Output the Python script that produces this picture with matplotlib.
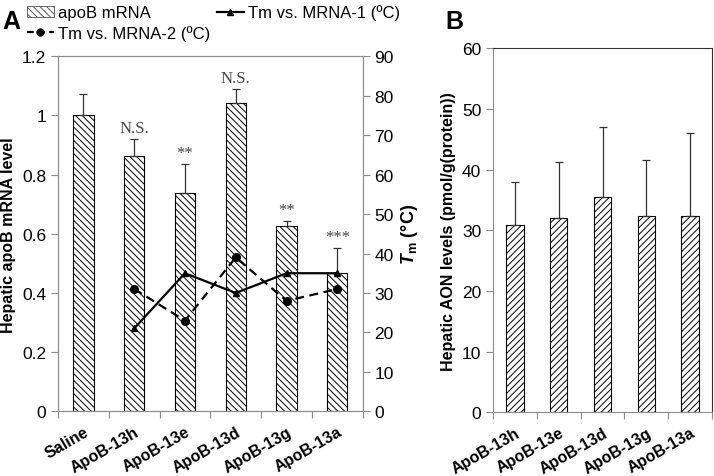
import matplotlib
matplotlib.use("Agg")
import matplotlib.pyplot as plt
from matplotlib.lines import Line2D
from matplotlib.patches import Patch
import numpy as np

plt.rcParams['font.family'] = ['Liberation Sans', 'DejaVu Sans']
plt.rcParams['hatch.linewidth'] = 0.7
plt.rcParams['mathtext.fontset'] = 'custom'
plt.rcParams['mathtext.bf'] = 'Liberation Sans:bold'
plt.rcParams['mathtext.bfit'] = 'Liberation Sans:italic:bold'

# panel A data
groups_a = ["Saline", "ApoB-13h", "ApoB-13e", "ApoB-13d", "ApoB-13g", "ApoB-13a"]
mrna = [1.0, 0.863, 0.737, 1.041, 0.625, 0.468]
mrna_err = [0.073, 0.057, 0.099, 0.049, 0.019, 0.084]
signif = ["", "N.S.", "**", "N.S.", "**", "***"]
tm_groups = groups_a[1:]
tm1 = [21, 35, 30, 35, 35]
tm2 = [31, 23, 39, 28, 31]

# panel B data
groups_b = ["ApoB-13h", "ApoB-13e", "ApoB-13d", "ApoB-13g", "ApoB-13a"]
aon = [30.8, 32.1, 35.5, 32.3, 32.3]
aon_err = [7.2, 9.2, 11.5, 9.3, 13.7]

gray = "#8c8c8c"

fig = plt.figure(figsize=(7.14, 4.77), dpi=100)

# ---- A ----
ax = fig.add_axes([0.0812, 0.1356, 0.4268, 0.7444])
xa = np.arange(len(groups_a))
ax.bar(xa, mrna, width=0.4, color="white", edgecolor="black", linewidth=0.8,
       hatch="\\\\\\\\\\", zorder=2)
ax.errorbar(xa, mrna, yerr=[np.zeros(len(mrna)), mrna_err], fmt="none",
            ecolor="#333333", elinewidth=0.9, capsize=3, capthick=0.9, zorder=3)
for x, v, e, s in zip(xa, mrna, mrna_err, signif):
    if s:
        ax.annotate(s, (x, v + e), xytext=(0, 2), textcoords="offset points",
                    ha="center", va="bottom", fontsize=12, color="#444444",
                    family="Liberation Serif")
ax.set_xlim(-0.5, len(groups_a) - 0.5)
ax.set_ylim(0, 1.2)
ax.set_yticks(np.arange(0, 1.21, 0.2))
ax.set_yticklabels(["0", "0.2", "0.4", "0.6", "0.8", "1", "1.2"])
ax.set_xticks(np.arange(-0.5, len(groups_a), 1.0))
ax.set_xticklabels([])
ax.set_xticks(xa, minor=True)
ax.set_xticklabels(groups_a, minor=True, rotation=30, ha="right",
                   rotation_mode="anchor", fontweight="bold", fontsize=11.5)
ax.tick_params(axis="x", which="minor", length=0, pad=9)
ax.tick_params(axis="x", which="major", length=5, color=gray)
ax.tick_params(axis="y", length=5, color=gray, labelsize=12.5)
for sp in ax.spines.values():
    sp.set_color(gray)
ax.set_ylabel("Hepatic apoB mRNA level", fontweight="bold", fontsize=11.5)

ax2 = ax.twinx()
xt = np.arange(1, len(groups_a))
ax2.plot(xt, tm1, color="black", linewidth=1.6, marker="^", markersize=5, zorder=4)
ax2.plot(xt, tm2, color="black", linewidth=1.6, linestyle=(0, (4, 2.5)),
         marker="o", markersize=5.5, zorder=4)
ax2.set_ylim(0, 90)
ax2.set_yticks(np.arange(0, 91, 10))
ax2.tick_params(axis="y", length=5, color=gray, labelsize=12.5)
for sp in ax2.spines.values():
    sp.set_color(gray)
ax2.set_ylabel(r"$\mathbfit{T}_{\mathbf{m}}$ $\mathbf{(°C)}$", fontsize=13)

handles = [
    Patch(facecolor="white", edgecolor="#555555", hatch="\\\\\\\\\\", linewidth=0.6),
    Line2D([], [], color="black", linewidth=1.6, linestyle=(0, (3, 2)),
           marker="o", markersize=5),
    Line2D([], [], color="black", linewidth=1.6, marker="^", markersize=5),
]
labels = ["apoB mRNA", "Tm vs. MRNA-2 (ºC)", "Tm vs. MRNA-1 (ºC)"]
fig.legend(handles, labels, ncol=2, loc="upper left", bbox_to_anchor=(0.017, 1.02),
           frameon=False, fontsize=12, handlelength=1.6, handletextpad=0.25,
           columnspacing=0.4, labelspacing=0.3)

fig.text(0.004, 0.978, "A", fontsize=18, fontweight="bold", va="top")

# ---- B ----
bx = fig.add_axes([0.6905, 0.1335, 0.3067, 0.763])
xb = np.arange(len(groups_b))
bx.bar(xb, aon, width=0.4, color="white", edgecolor="black", linewidth=0.8,
       hatch="/////", zorder=2)
bx.errorbar(xb, aon, yerr=[np.zeros(len(aon)), aon_err], fmt="none",
            ecolor="#333333", elinewidth=0.9, capsize=3, capthick=0.9, zorder=3)
bx.set_xlim(-0.5, len(groups_b) - 0.5)
bx.set_ylim(0, 60)
bx.set_yticks(np.arange(0, 61, 10))
bx.set_xticks(np.arange(-0.5, len(groups_b), 1.0))
bx.set_xticklabels([])
bx.set_xticks(xb, minor=True)
bx.set_xticklabels(groups_b, minor=True, rotation=30, ha="right",
                   rotation_mode="anchor", fontweight="bold", fontsize=11.5)
bx.tick_params(axis="x", which="minor", length=0, pad=9)
bx.tick_params(axis="x", which="major", length=5, color=gray)
bx.tick_params(axis="y", length=5, color=gray, labelsize=12.5)
bx.spines["left"].set_color(gray)
bx.spines["bottom"].set_color(gray)
bx.spines["top"].set_color("#333333")
bx.spines["right"].set_color("#333333")
bx.set_ylabel("Hepatic AON levels (pmol/g(protein))", fontweight="bold", fontsize=11.5)

fig.text(0.624, 0.978, "B", fontsize=18, fontweight="bold", va="top")

fig.savefig("out.png", dpi=100)
